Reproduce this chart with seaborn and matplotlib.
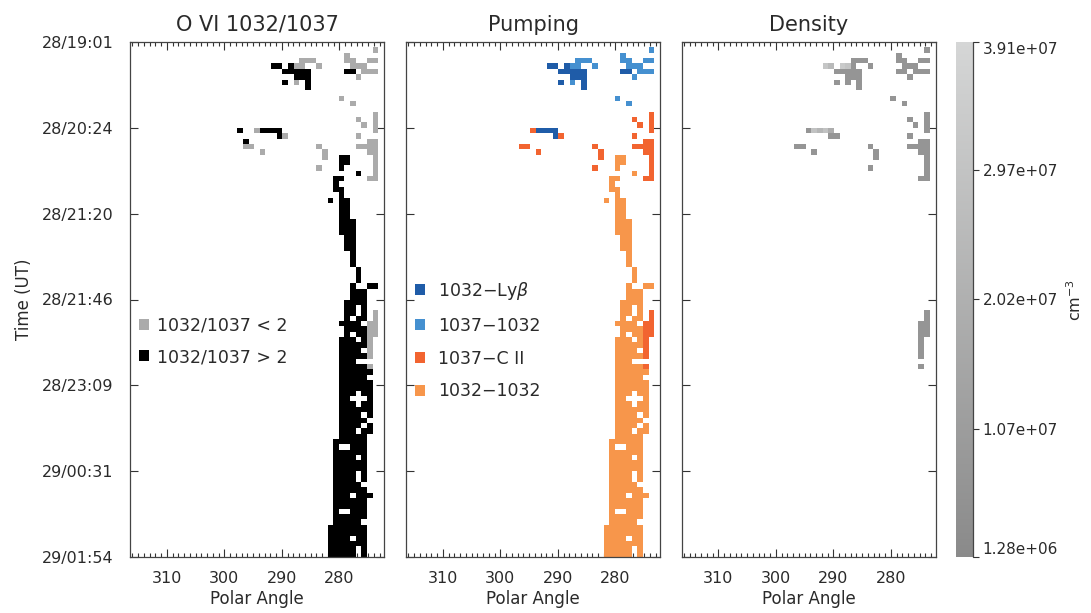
import numpy as np
import matplotlib
matplotlib.use("Agg")
import matplotlib.pyplot as plt
from matplotlib.colors import ListedColormap, LinearSegmentedColormap
from matplotlib.patches import Patch
import seaborn as sns

#================================== data ==================================
time_labels = ["28/19:01", "28/20:24", "28/21:20", "28/21:46",
               "28/23:09", "29/00:31", "29/01:54"]
angle_ticks = [310, 300, 290, 280]

ratio_names = ["1032/1037 < 2", "1032/1037 > 2"]
ratio_colors = ["#ababab", "#000000"]

pump_names = ["1032\u2212Ly$\\beta$", "1037\u22121032", "1037\u2212C II", "1032\u22121032"]
pump_colors = ["#1f5ca8", "#4590d0", "#f26430", "#f7964b"]

dens_ticks = [1.28e6, 1.07e7, 2.02e7, 2.97e7, 3.91e7]
dens_default = 7.0e6
# brighter (denser) pixels, key = (row, column in pixel string)
dens_bright = {(4, 7): 3.1e7, (4, 8): 2.5e7, (4, 10): 3.3e7, (4, 11): 3.0e7,
               (16, 5): 2.9e7, (16, 6): 2.3e7, (16, 7): 2.9e7, (16, 8): 1.9e7}

# one string per exposure (top = 28/19:01), right-aligned: last char is the
# pixel next to ~273.7 deg, each char one ~1 deg pixel going left
# a: ratio>2, 1032-Lyb   b: ratio<2, 1037-1032   c: ratio<2, 1037-C II
# d: ratio>2, 1032-1032  k: ratio>2, no pumping class
pix = [
    "", "b", "b.....", "bbb.....bb..bb", "aa.abb..b.....bbb..",
    "aaaaa......aa.bbb", "aaa........b...", "a.b.a............", "a............", "",
    "b......", "b....", "", "c", "c..c",
    "c.c", "k..caaaa................c", "ac............c...", "k.....................cc",
    "cc...........c......cccc",
    "c..........c.......cc", "c..dd....c", "dd....c", "c...d.....c", "d..c",
    "dd....cc", "d.......", "dd......", "d......", "d.dd.....",
    "dd.....", "dd.....", "dd.....", "ddd....", "ddd....",
    "ddd....", "dd....", "dd....", "dd....", "d....",
    "d....", "d....", "d...", "d...", "d...",
    "d..dd", "ddd..", "ddd..", "dddd..", "dd.d..",
    "dd.d.c", "d.dd.c", "dddd.cc", "ddddcc", "d.ddcc",
    "ddd.dc.", "dddddc.", "dddd.c.", "dddddc.", "ddd....",
    "dddddc.", "dddddd.", "ddddd..", "dddddd.", "dddddd.",
    "ddd.dd.", "dd...d.", "ddd.dd.", "..dddddd.", "..dddd.d.",
    "..ddddd..", "..dddd.d.", "..ddd.dd.", "..ddddd..", ".dddddd..",
    ".d..ddd..", ".dddddd..", ".dddd.d..", ".dddddd..", ".dddddd..",
    ".dddd.d..", ".dddd.d..", ".ddddd...", ".dddddd..", ".ddd.ddd.",
    ".dddddd..", ".dddddd..", ".d..ddd..", ".dddddd..", ".ddddd...",
    "ddddddd..", "ddddddd..", "dddd.dd..", "ddddddd..", "ddddd.d..",
    "ddddd.d..",
]

#================================ grid setup ===============================
n_pix = 26           # width of the pixel strings
first_col = 19       # heatmap column of the leftmost string char
ncol = 46
left_edge = 317.35   # polar angle of heatmap column 0 left edge
pix_deg = 0.98


def a2x(a):
    return (left_edge - a) / pix_deg


nrow = len(pix)
ratio = np.full((nrow, ncol), np.nan)
pump = np.full((nrow, ncol), np.nan)
dens = np.full((nrow, ncol), np.nan)
ratio_code = {"a": 1, "d": 1, "k": 1, "b": 0, "c": 0}
pump_code = {"a": 0, "b": 1, "c": 2, "d": 3}
for r, row in enumerate(pix):
    row = row.rjust(n_pix, ".")
    for k, ch in enumerate(row):
        if ch in ratio_code:
            ratio[r, first_col + k] = ratio_code[ch]
        if ch in pump_code:
            pump[r, first_col + k] = pump_code[ch]
        if ch in "abc":
            dens[r, first_col + k] = dens_bright.get((r, k), dens_default)

#================================== plot ==================================
sns.set_style("ticks")
plt.rcParams["font.family"] = ["DejaVu Sans"]
plt.rcParams["text.color"] = "#2a2a2a"
plt.rcParams["axes.labelcolor"] = "#2a2a2a"
plt.rcParams["xtick.color"] = "#2a2a2a"
plt.rcParams["ytick.color"] = "#2a2a2a"

W, H = 1091, 613
fig = plt.figure(figsize=(W / 100, H / 100), dpi=100)


def box(l, t, r, b):
    return [l / W, 1 - b / H, (r - l) / W, (b - t) / H]


ax1 = fig.add_axes(box(130, 42, 384.3, 557))
ax2 = fig.add_axes(box(406, 42, 660.3, 557))
ax3 = fig.add_axes(box(681.5, 42, 935.8, 557))
cax = fig.add_axes(box(956, 42, 973, 557))

sns.heatmap(ratio, ax=ax1, cmap=ListedColormap(ratio_colors), vmin=-0.5, vmax=1.5,
            cbar=False, xticklabels=False, yticklabels=False)
sns.heatmap(pump, ax=ax2, cmap=ListedColormap(pump_colors), vmin=-0.5, vmax=3.5,
            cbar=False, xticklabels=False, yticklabels=False)
dens_cmap = LinearSegmentedColormap.from_list("dens", ["#8a8a8a", "#d5d6d6"])
sns.heatmap(dens, ax=ax3, cmap=dens_cmap, vmin=dens_ticks[0], vmax=dens_ticks[-1],
            cbar_ax=cax, xticklabels=False, yticklabels=False)

titles = ["O VI 1032/1037", "Pumping", "Density"]
for ax, title in zip((ax1, ax2, ax3), titles):
    for s in ax.spines.values():
        s.set_visible(True)
        s.set_color("#444444")
        s.set_linewidth(0.9)
    ax.set_xlim(a2x(316.4), a2x(272.2))
    ax.set_ylim(nrow, 0)
    ax.set_xticks([a2x(a) for a in angle_ticks])
    ax.set_xticklabels([str(a) for a in angle_ticks], fontsize=11.5, rotation=0)
    ax.set_xticks([a2x(a) for a in range(273, 317)], minor=True)
    ax.set_yticks(np.arange(0, nrow + 1, 16))
    ax.tick_params(which="both", direction="in", top=True, right=True,
                   bottom=True, left=True, width=0.8, color="#333333")
    ax.tick_params(which="major", length=6)
    ax.tick_params(which="minor", length=3)
    ax.tick_params(axis="x", which="major", pad=10)
    ax.tick_params(axis="y", which="minor", left=False, right=False)
    ax.set_xlabel("Polar Angle", fontsize=12, labelpad=3)
    ax.set_title(title, fontsize=15, pad=8)

ax1.set_yticklabels(time_labels, fontsize=11.5, rotation=0)
ax1.tick_params(axis="y", pad=12)
ax1.set_ylabel("Time (UT)", fontsize=12, labelpad=6)
ax2.set_yticklabels([])
ax3.set_yticklabels([])

# legends
ax1.legend(handles=[Patch(facecolor=c, edgecolor="none", label=l)
                    for c, l in zip(ratio_colors, ratio_names)],
           loc="upper left", bbox_to_anchor=(139 / W, 1 - 317 / H),
           bbox_transform=fig.transFigure, frameon=False, fontsize=12.5,
           handlelength=0.6, handleheight=0.6, handletextpad=0.45,
           labelspacing=0.75, borderpad=0, borderaxespad=0)
ax2.legend(handles=[Patch(facecolor=c, edgecolor="none", label=l)
                    for c, l in zip(pump_colors, pump_names)],
           loc="upper left", bbox_to_anchor=(415 / W, 1 - 280 / H),
           bbox_transform=fig.transFigure, frameon=False, fontsize=12.5,
           handlelength=0.6, handleheight=0.6, handletextpad=0.75,
           labelspacing=0.85, borderpad=0, borderaxespad=0)

# colorbar
cb = ax3.collections[0].colorbar
cb.set_ticks(dens_ticks)
cb.set_ticklabels([f"{v:.2e}" for v in dens_ticks])
cb.outline.set_visible(False)
cax.tick_params(axis="y", direction="out", length=4, width=0.8, labelsize=11,
                right=True, left=False, pad=3, color="#333333")
labs = cax.get_yticklabels()
labs[0].set_va("bottom")
labs[-1].set_va("top")
cax.plot([1, 1], [0, 1], transform=cax.transAxes, color="#444444", lw=0.9,
         clip_on=False)
fig.text(1075 / W, 1 - 300 / H, "cm$^{-3}$", rotation=90, ha="center",
         va="center", fontsize=11.5)

fig.savefig("out.png", dpi=100)
